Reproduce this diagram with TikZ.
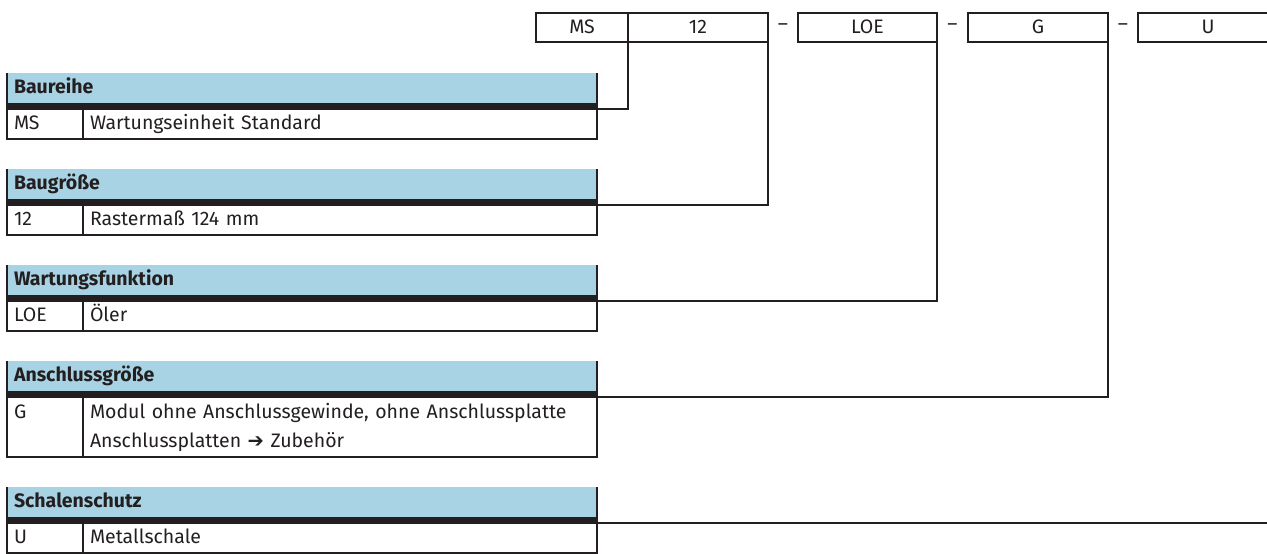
\documentclass[tikz,border=0pt]{standalone}
\usepackage{fontspec}
\setmainfont{Fira Sans}
\newfontfamily\pfeilfont{DejaVu Sans}
\usetikzlibrary{positioning}
\newdimen\tabAbstand
\tabAbstand=30pt
\definecolor{hellblau}{RGB}{168,211,228}
\definecolor{dunkel}{RGB}{35,31,32}
\newcommand\tabschrift{\fontsize{19.5pt}{29pt}\selectfont}

\begin{document}
\begin{tikzpicture}[
    x=1pt, y=-1pt,
    line width=2pt,
    color=dunkel,
    font=\tabschrift,
    feld/.style={%
      draw,
      rectangle,
      minimum width=#1,
      minimum height=29pt,
      inner sep=0pt,
      outer sep=0pt,
      execute at begin node=\strut,
    },
    strich/.style={%
      minimum width=#1,
      minimum height=29pt,
      inner sep=0pt,
      outer sep=0pt,
    },
    kopf/.style={%
      fill=hellblau,
      anchor=north west,
      text width=576pt,
      align=left,
      minimum height=30pt,
      inner xsep=7pt,
      inner ysep=0pt,
      outer sep=0pt,
      font=\tabschrift\bfseries,
      execute at begin node=\strut,
    },
    balken/.style={%
      fill=dunkel,
      minimum width=590pt,
      minimum height=6pt,
      inner sep=0pt,
      outer sep=0pt,
    },
    zelle/.style={%
      draw,
      anchor=north west,
      text width=#1,
      align=left,
      minimum height=30pt,
      inner xsep=7pt,
      inner ysep=0pt,
      outer sep=0pt,
      execute at begin node=\strut,
    },
  ]

    \clip (0,0) rectangle (1267,554);

    % Typenschluessel oben
    \node [feld=92pt, anchor=north west] (fMS) at (536,13) {MS};
    \node [feld=140pt, right=0pt of fMS] (f12) {12};
    \node [strich=30pt, right=0pt of f12] (s1) {–};
    \node [feld=139pt, right=0pt of s1] (fLOE) {LOE};
    \node [strich=31pt, right=0pt of fLOE] (s2) {–};
    \node [feld=140pt, right=0pt of s2] (fG) {G};
    \node [strich=30pt, right=0pt of fG] (s3) {–};
    \node [feld=140pt, right=0pt of s3] (fU) {U};

    % Baureihe
    \node [kopf] (k1) at (7,73) {Baureihe};
    \node [balken, below=0pt of k1] (b1) {};
    \node [zelle=62pt] (c1) at (b1.south west) {MS};
    \node [zelle=500pt, right=0pt of c1] (t1) {Wartungseinheit Standard};
    \draw (k1.north west) -- (b1.south west);
    \draw (k1.north east) -- (b1.south east);

    % Baugroesse
    \path (c1.south west) ++(0pt,-\tabAbstand) node [kopf] (k2) {Baugröße};
    \node [balken, below=0pt of k2] (b2) {};
    \node [zelle=62pt] (c2) at (b2.south west) {12};
    \node [zelle=500pt, right=0pt of c2] (t2) {Rastermaß 124 mm};
    \draw (k2.north west) -- (b2.south west);
    \draw (k2.north east) -- (b2.south east);

    % Wartungsfunktion
    \path (c2.south west) ++(0pt,-\tabAbstand) node [kopf] (k3) {Wartungsfunktion};
    \node [balken, below=0pt of k3] (b3) {};
    \node [zelle=62pt] (c3) at (b3.south west) {LOE};
    \node [zelle=500pt, right=0pt of c3] (t3) {Öler};
    \draw (k3.north west) -- (b3.south west);
    \draw (k3.north east) -- (b3.south east);

    % Anschlussgroesse
    \path (c3.south west) ++(0pt,-\tabAbstand) node [kopf] (k4) {Anschlussgröße};
    \node [balken, below=0pt of k4] (b4) {};
    \node [zelle=62pt, minimum height=60pt] (c4) at (b4.south west) {G\\\strut};
    \node [zelle=500pt, minimum height=60pt, right=0pt of c4] (t4) {Modul ohne Anschlussgewinde, ohne Anschlussplatte\\Anschlussplatten {\pfeilfont\bfseries ➔} Zubehör\strut};
    \draw (k4.north west) -- (b4.south west);
    \draw (k4.north east) -- (b4.south east);

    % Schalenschutz
    \path (c4.south west) ++(0pt,-\tabAbstand) node [kopf] (k5) {Schalenschutz};
    \node [balken, below=0pt of k5] (b5) {};
    \node [zelle=62pt] (c5) at (b5.south west) {U};
    \node [zelle=500pt, right=0pt of c5] (t5) {Metallschale};
    \draw (k5.north west) -- (b5.south west);
    \draw (k5.north east) -- (b5.south east);

    % Verbindungslinien
    \draw (fMS.south east) |- (b1.south east);
    \draw (f12.south east) |- (b2.south east);
    \draw (fLOE.south east) |- (b3.south east);
    \draw (fG.south east) |- (b4.south east);
    \draw (fU.south east) |- (b5.south east);

\end{tikzpicture}
\end{document}
